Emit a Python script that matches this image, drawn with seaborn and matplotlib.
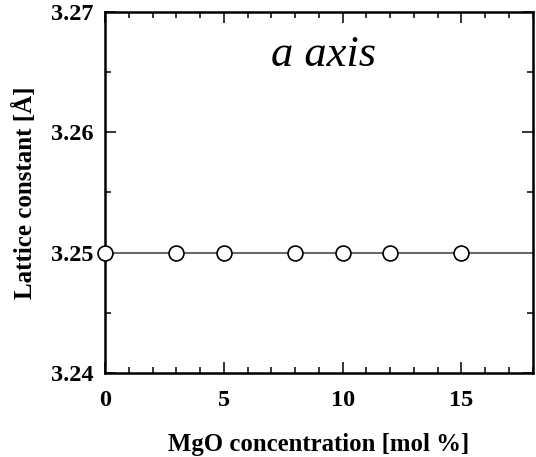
import numpy as np
import pandas as pd
import seaborn as sns
import matplotlib.pyplot as plt
from matplotlib.ticker import MultipleLocator

# Data
mgo_conc = [0, 3, 5, 8, 10, 12, 15]
lattice_a = [3.25, 3.25, 3.25, 3.25, 3.25, 3.25, 3.25]
df = pd.DataFrame({'mgo': mgo_conc, 'a': lattice_a})

sns.set_theme(style='ticks')
plt.rcParams['font.family'] = ['Liberation Serif', 'DejaVu Serif']
plt.rcParams['text.color'] = 'black'
plt.rcParams['axes.labelcolor'] = 'black'
plt.rcParams['xtick.color'] = 'black'
plt.rcParams['ytick.color'] = 'black'

fig = plt.figure(figsize=(5.36, 4.57), dpi=100)
ax = fig.add_axes([0.196, 0.184, 0.798, 0.790])

# fitted (flat) line across the full range
ax.axhline(np.mean(lattice_a), color='#6a6a6a', lw=1.5, zorder=1)

sns.scatterplot(data=df, x='mgo', y='a', ax=ax, s=115, marker='o',
                facecolor='white', edgecolor='black', linewidth=1.2, zorder=3,
                clip_on=False)

ax.set_xlim(0, 18)
ax.set_ylim(3.24, 3.27)
ax.xaxis.set_major_locator(MultipleLocator(5))
ax.xaxis.set_minor_locator(MultipleLocator(1))
ax.yaxis.set_major_locator(MultipleLocator(0.01))
ax.yaxis.set_minor_locator(MultipleLocator(0.005))
ax.yaxis.set_major_formatter(plt.FormatStrFormatter('%.2f'))

ax.tick_params(which='both', direction='in', top=True, right=True, width=1.1)
ax.tick_params(which='major', length=8, labelsize=17.5)
ax.tick_params(axis='x', which='major', pad=12)
ax.tick_params(axis='y', which='major', pad=8)
ax.tick_params(which='minor', length=4)
for lab in ax.get_xticklabels() + ax.get_yticklabels():
    lab.set_fontweight('bold')

for sp in ax.spines.values():
    sp.set_visible(True)
    sp.set_linewidth(1.8)
    sp.set_color('black')

ax.set_xlabel('MgO concentration [mol %]', fontsize=17.8, fontweight='bold', labelpad=16)
ax.set_ylabel('Lattice constant [Å]', fontsize=18, fontweight='bold', labelpad=10)

ax.text(0.51, 0.88, 'a axis', transform=ax.transAxes, ha='center', va='center',
        fontsize=32, fontstyle='italic')

fig.savefig('out.png', dpi=100)
